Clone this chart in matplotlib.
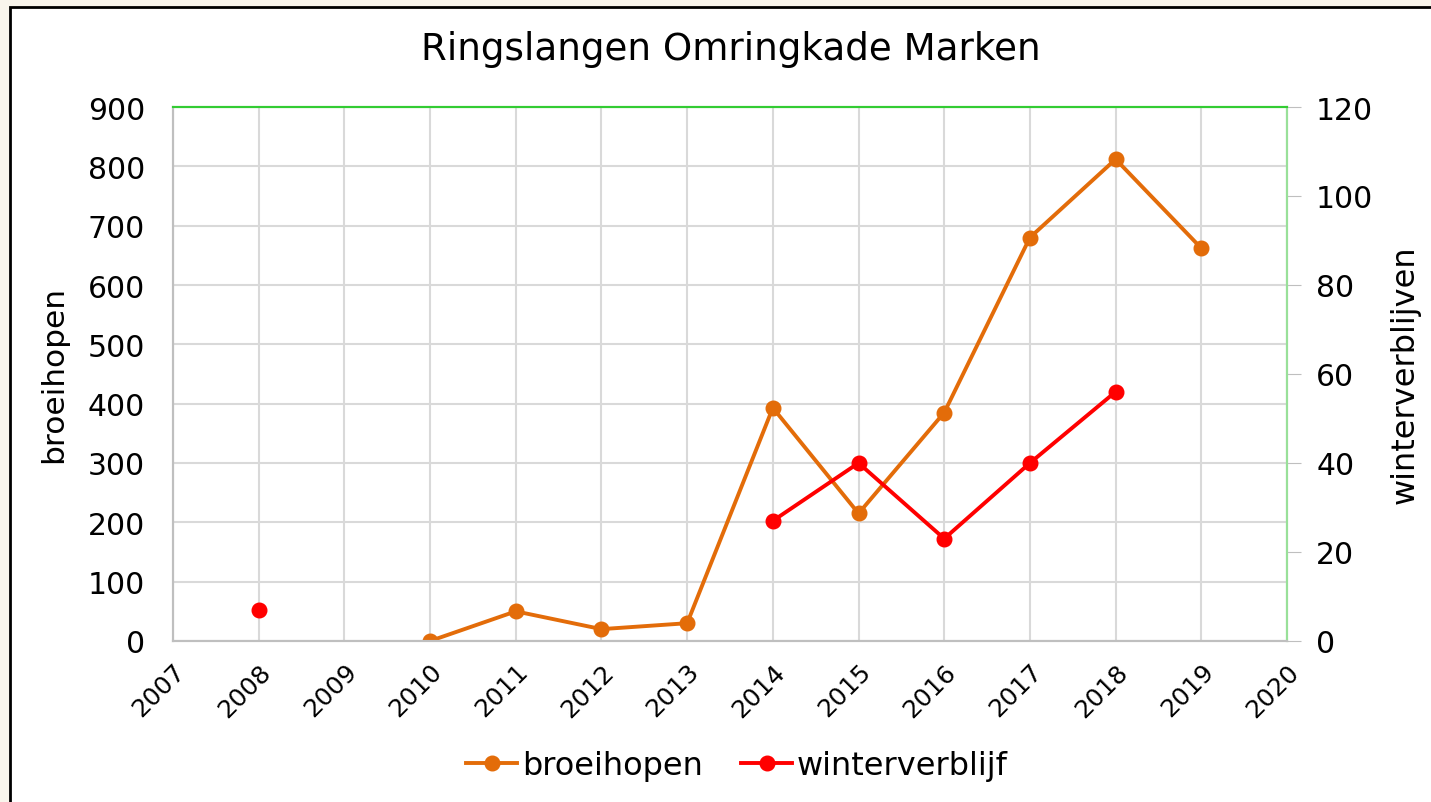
import matplotlib.pyplot as plt
from matplotlib.patches import Rectangle

years = list(range(2007, 2021))
# None = geen waarneming
broeihopen = [None, None, None, 0, 50, 20, 30, 393, 215, 385, 680, 812, 662, None]
winterverblijf = [None, 7, None, None, None, None, None, 27, 40, 23, 40, 56, None, None]

bh = [float('nan') if v is None else v for v in broeihopen]
wv = [float('nan') if v is None else v for v in winterverblijf]

fig = plt.figure(figsize=(14.31, 8.03), dpi=100)
fig.patch.set_facecolor('#f9f5ec')
fig.patches.append(Rectangle((10/1431, -0.01), 1.02, 1 - 8/803 + 0.01,
                             transform=fig.transFigure, facecolor='white',
                             edgecolor='black', linewidth=2, zorder=-1))

ax = fig.add_axes([173/1431, 1 - 642/803, (1287-173)/1431, (642-108)/803])
ax.set_facecolor('white')
ax2 = ax.twinx()

orange = '#e36c09'
red = '#ff0000'
l1, = ax.plot(years, bh, color=orange, lw=2.8, marker='o', ms=10.5, label='broeihopen')
l2, = ax2.plot(years, wv, color=red, lw=2.8, marker='o', ms=10.5, label='winterverblijf')

ax.set_xlim(2007, 2020)
ax.set_ylim(0, 900)
ax2.set_ylim(0, 120)
ax.set_xticks(years)
ax.set_xticklabels([str(x) for x in years], rotation=45, ha='right', rotation_mode='anchor', fontsize=18)
ax.set_yticks(range(0, 901, 100))
ax2.set_yticks(range(0, 121, 20))
ax.tick_params(axis='y', length=0, labelsize=21.5, pad=20)
ax.tick_params(axis='x', length=0, pad=13)
ax2.tick_params(axis='y', length=10, color='#bfbfbf', labelsize=21.5, pad=11)

ax.grid(True, color='#d9d9d9', lw=1.5)
ax.set_axisbelow(True)
for a in (ax, ax2):
    a.spines['left'].set_color('#bfbfbf')
    a.spines['bottom'].set_color('#bfbfbf')
    a.spines['top'].set_color('#33cc33')
    a.spines['right'].set_color('#99e099')
    for s in a.spines.values():
        s.set_linewidth(1.5)

ax.set_ylabel('broeihopen', fontsize=22.5, labelpad=14)
ax2.set_ylabel('winterverblijven', fontsize=23, labelpad=12)
fig.suptitle('Ringslangen Omringkade Marken', fontsize=26.8, x=0.511, y=0.962)

fig.legend([l1, l2], ['broeihopen', 'winterverblijf'], loc='center', bbox_to_anchor=(0.515, 0.045),
           ncol=2, frameon=False, fontsize=23, handlelength=1.6, columnspacing=1.2, handletextpad=0.15)

fig.savefig('out.png', dpi=100, facecolor=fig.get_facecolor())
